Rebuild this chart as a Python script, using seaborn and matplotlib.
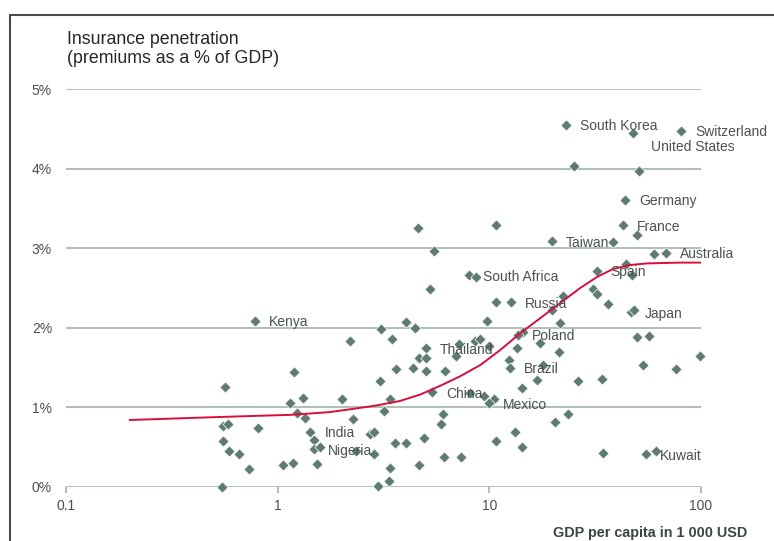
import numpy as np
import pandas as pd
import seaborn as sns
import matplotlib.pyplot as plt
from matplotlib.lines import Line2D
from matplotlib.ticker import NullLocator

# GDP per capita (thousand USD) and insurance premiums as % of GDP, one entry per country
gdp = [
    23.1, 47.6, 80.3, 25.0, 50.8, 43.8, 10.7, 42.7, 50.1, 19.8,
    38.6, 59.8, 68.4, 44.0, 32.2, 47.3, 30.8, 32.2, 22.4, 4.60,
    5.50, 8.03, 8.66, 5.25, 10.8, 12.7, 36.3, 46.8, 48.3, 19.7,
    9.80, 21.5, 14.5, 13.6, 49.7, 56.7, 17.4, 10.0, 13.5, 21.4,
    99.4, 12.4, 12.5, 18.0, 53.1, 76.3, 16.8, 26.2, 34.1, 14.3,
    9.45, 10.5, 10.0, 23.6, 20.5, 13.2, 10.7, 14.2, 34.6, 55.1,
    61.2, 0.78, 3.08, 4.05, 4.46, 2.20, 3.46, 5.01, 4.63, 5.01,
    7.22, 8.57, 9.05, 6.97, 3.63, 4.38, 5.05, 6.20, 1.19, 3.04,
    0.565, 1.32, 2.01, 1.15, 3.40, 5.35, 8.12, 1.23, 1.35, 3.18,
    2.27, 6.05, 5.90, 0.55, 0.58, 0.81, 1.43, 2.73, 2.84, 4.94,
    0.55, 1.49, 3.60, 4.06, 1.48, 1.59, 2.34, 0.59, 0.66, 2.86,
    6.12, 7.38, 1.06, 1.18, 1.54, 4.68, 0.73, 3.40, 0.545, 2.99,
    3.37,
]
penetration = [
    4.55, 4.45, 4.48, 4.04, 3.97, 3.61, 3.29, 3.29, 3.17, 3.09,
    3.08, 2.93, 2.94, 2.80, 2.72, 2.66, 2.49, 2.42, 2.40, 3.25,
    2.96, 2.67, 2.64, 2.49, 2.32, 2.32, 2.30, 2.20, 2.22, 2.22,
    2.09, 2.06, 1.95, 1.91, 1.88, 1.90, 1.81, 1.77, 1.75, 1.69,
    1.65, 1.59, 1.50, 1.53, 1.53, 1.48, 1.34, 1.33, 1.35, 1.24,
    1.14, 1.10, 1.05, 0.92, 0.81, 0.69, 0.57, 0.50, 0.43, 0.41,
    0.45, 2.09, 1.98, 2.07, 2.00, 1.83, 1.86, 1.74, 1.62, 1.62,
    1.79, 1.83, 1.86, 1.65, 1.48, 1.49, 1.46, 1.46, 1.44, 1.33,
    1.25, 1.12, 1.11, 1.06, 1.11, 1.19, 1.18, 0.93, 0.86, 0.95,
    0.85, 0.92, 0.79, 0.77, 0.79, 0.74, 0.69, 0.66, 0.69, 0.62,
    0.58, 0.59, 0.55, 0.55, 0.48, 0.50, 0.45, 0.45, 0.41, 0.41,
    0.37, 0.37, 0.27, 0.30, 0.29, 0.27, 0.23, 0.24, 0.00, 0.01,
    0.07,
]
country = [""] * len(gdp)
named = {
    0: "South Korea", 1: "United States", 2: "Switzerland", 5: "Germany",
    7: "France", 9: "Taiwan", 12: "Australia", 14: "Spain",
    22: "South Africa", 25: "Russia", 28: "Japan", 33: "Poland",
    42: "Brazil", 52: "Mexico", 59: "Kuwait", 61: "Kenya",
    67: "Thailand", 85: "China", 96: "India", 104: "Nigeria",
}
for i, name in named.items():
    country[i] = name

# Trend line: premiums as % of GDP along GDP per capita
trend_gdp = [0.2, 0.43, 0.741, 1.15, 1.77, 2.2, 2.89, 3.79, 4.71, 5.86,
             7.28, 9.05, 11.25, 13.98, 17.38, 21.6, 26.85, 32.3, 38.4,
             46.3, 55.6, 79.6, 100]
trend_pen = [0.84, 0.87, 0.89, 0.905, 0.94, 0.975, 1.02, 1.08, 1.16, 1.27,
             1.39, 1.53, 1.72, 1.93, 2.12, 2.31, 2.50, 2.64, 2.74,
             2.79, 2.81, 2.82, 2.82]

y_ticks = [0, 1, 2, 3, 4, 5]
y_tick_labels = ["0%", "1%", "2%", "3%", "4%", "5%"]
x_ticks = [0.1, 1, 10, 100]
x_tick_labels = ["0.1", "1", "10", "100"]

df = pd.DataFrame({"gdp": gdp, "penetration": penetration, "country": country})

# label offsets in pixels relative to each country's marker
default_offset = (14, -1.4)
label_offset = {"United States": (18, -13.5), "South Africa": (7, 0),
                "Japan": (11, -3.5), "Nigeria": (14, -2.3)}

MARK = "#5d7b73"
GRID = "#9fb4ab"
RED = "#d80f3a"
TXT = "#4a514e"

sns.set_theme(style="white")
plt.rcParams["font.family"] = ["Liberation Sans", "DejaVu Sans"]

W, H = 774, 541
fig = plt.figure(figsize=(W / 100, H / 100), dpi=100)
ax = fig.add_axes([65.9 / W, (H - 486.8) / H, (701 - 65.9) / W, 397.5 / H])
ax.set_xscale("log")

sns.scatterplot(data=df, x="gdp", y="penetration", marker="D", s=32,
                color=MARK, edgecolor="white", linewidth=0.5, ax=ax,
                zorder=3, clip_on=False, legend=False)
sns.lineplot(x=trend_gdp, y=trend_pen, color=RED, linewidth=1.4, ax=ax,
             zorder=4, estimator=None, sort=True)

ax.set_xlim(0.1, 100)
ax.set_ylim(0, 5)
ax.set_yticks(y_ticks)
ax.set_yticklabels(y_tick_labels)
ax.set_xticks(x_ticks)
ax.set_xticklabels(x_tick_labels)
ax.xaxis.set_minor_locator(NullLocator())
ax.set_xlabel("")
ax.set_ylabel("")
for s in ax.spines.values():
    s.set_visible(False)
ax.grid(axis="y", color=GRID, linewidth=1.2)
ax.grid(axis="x", visible=False)
ax.set_axisbelow(True)
ax.tick_params(axis="x", bottom=True, length=4, width=1.2, color=GRID,
               direction="out", pad=5, labelsize=10, labelcolor=TXT)
ax.tick_params(axis="y", left=False, length=0, pad=10, labelsize=10,
               labelcolor=TXT)

for _, row in df[df["country"] != ""].iterrows():
    dx, dy = label_offset.get(row["country"], default_offset)
    ax.annotate(row["country"], (row["gdp"], row["penetration"]),
                xytext=(dx, dy), textcoords="offset pixels",
                ha="left", va="center", fontsize=10, color=TXT, zorder=5)

fig.text(67 / W, 1 - 31 / H, "Insurance penetration\n(premiums as a % of GDP)",
         ha="left", va="top", fontsize=12.8, linespacing=1.12, color="#262626")
fig.text(747 / W, 1 - 533 / H, "GDP per capita in 1 000 USD",
         ha="right", va="center", fontsize=10.4, fontweight="bold",
         family=["Liberation Sans Narrow", "Liberation Sans"], color="#3a4743")

# frame lines along the top and left edge
fig.add_artist(Line2D([9.5 / W, 1], [1 - 15 / H, 1 - 15 / H],
                      transform=fig.transFigure, color="#4a4a4a", linewidth=1.5))
fig.add_artist(Line2D([9.5 / W, 9.5 / W], [0, 1 - 15 / H],
                      transform=fig.transFigure, color="#4a4a4a", linewidth=1.5))

fig.savefig("out.png", dpi=100)
